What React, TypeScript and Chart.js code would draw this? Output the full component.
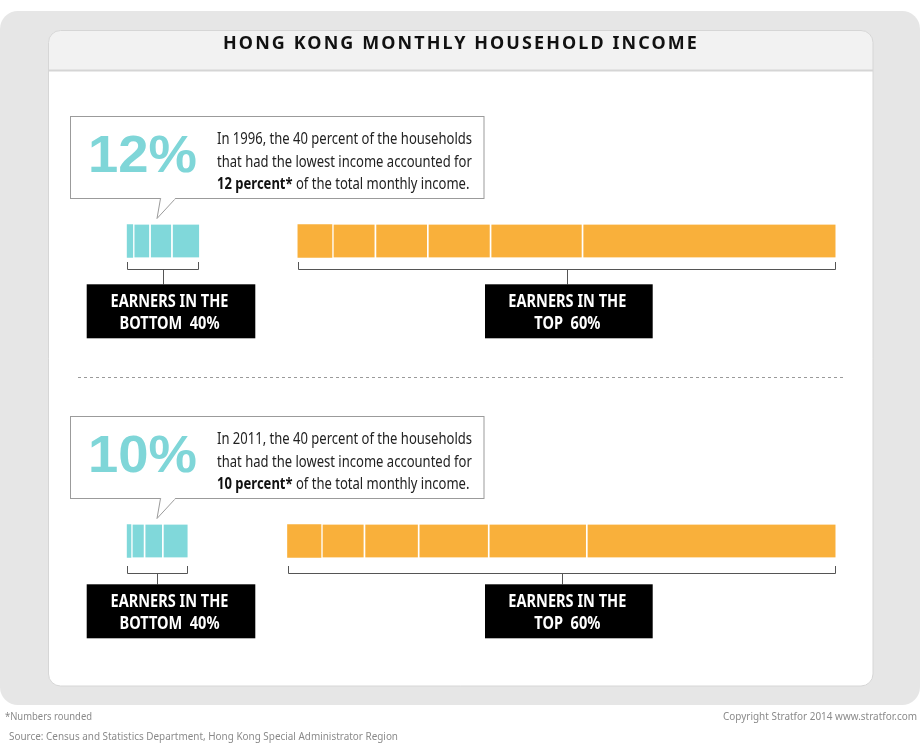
import React, { useEffect, useRef } from 'react';
import { Chart, registerables } from 'chart.js';

Chart.register(...registerables);

// ---------------- DATA ----------------
const years = ['1996', '2011'];
const bottomDeciles = ['1st decile', '2nd decile', '3rd decile', '4th decile'];
const topDeciles = ['5th decile', '6th decile', '7th decile', '8th decile', '9th decile', '10th decile'];
// share of total monthly household income (%), by decile, per year
const bottom1996 = [1.0, 2.7, 3.6, 4.6];
const bottom2011 = [0.7, 2.1, 3.0, 4.2];
const top1996 = [5.6, 7.0, 8.6, 10.3, 15.1, 41.7];
const top2011 = [5.5, 7.0, 8.9, 11.5, 16.1, 41.0];
// invisible spacer between the two groups
const spacer = [16.2, 16.4];
const AXIS_MAX = 116.4;

const bigLabels = ['12%', '10%'];
const calloutLine1 = ['In 1996, the 40 percent of the households', 'In 2011, the 40 percent of the households'];
const calloutLine2 = ['that had the lowest income accounted for', 'that had the lowest income accounted for'];
const calloutBold = ['12 percent*', '10 percent*'];
const calloutRest = [' of the total monthly income.', ' of the total monthly income.'];
const groupLabelsBottom = ['EARNERS IN THE', 'BOTTOM  40%'];
const groupLabelsTop = ['EARNERS IN THE', 'TOP  60%'];
const TITLE = 'HONG KONG MONTHLY HOUSEHOLD INCOME';
const NOTE = '*Numbers rounded';
const SOURCE = 'Source: Census and Statistics Department, Hong Kong Special Administrator Region';
const COPYRIGHT = 'Copyright Stratfor 2014 www.stratfor.com';

// ---------------- STYLE ----------------
const W = 920;
const H = 749;
const CYAN = '#80d8da';
const ORANGE = '#f9b03b';
const DIVIDER = 'rgba(255,255,255,0.72)';
const SANS = '"Noto Sans", "Open Sans", sans-serif';

function rr(ctx: CanvasRenderingContext2D, x: number, y: number, w: number, h: number, r: number) {
  ctx.beginPath();
  (ctx as any).roundRect(x, y, w, h, r);
}

function measure(ctx: CanvasRenderingContext2D, text: string, font: string, spacing = '0px') {
  ctx.save();
  ctx.font = font;
  (ctx as any).letterSpacing = spacing;
  const w = ctx.measureText(text).width;
  ctx.restore();
  return w;
}

function drawScaled(
  ctx: CanvasRenderingContext2D,
  text: string,
  x: number,
  y: number,
  font: string,
  sx: number,
  color: string,
  align: 'left' | 'center' | 'right' = 'left',
  spacing = '0px'
) {
  const w = measure(ctx, text, font, spacing) * sx;
  let x0 = x;
  if (align === 'center') x0 = x - w / 2;
  else if (align === 'right') x0 = x - w;
  ctx.save();
  ctx.font = font;
  (ctx as any).letterSpacing = spacing;
  ctx.fillStyle = color;
  ctx.textAlign = 'left';
  ctx.textBaseline = 'alphabetic';
  ctx.translate(x0, y);
  ctx.scale(sx, 1);
  ctx.fillText(text, 0, 0);
  ctx.restore();
  return w;
}

function drawFit(
  ctx: CanvasRenderingContext2D,
  text: string,
  x: number,
  y: number,
  font: string,
  width: number,
  color: string,
  align: 'left' | 'center' | 'right' = 'left',
  spacing = '0px'
) {
  const sx = width / measure(ctx, text, font, spacing);
  return drawScaled(ctx, text, x, y, font, sx, color, align, spacing);
}

const backgroundPlugin = {
  id: 'panelBackground',
  beforeDraw(chart: any) {
    const ctx: CanvasRenderingContext2D = chart.ctx;
    ctx.save();
    ctx.fillStyle = '#ffffff';
    ctx.fillRect(0, 0, W, H);
    ctx.fillStyle = '#e6e6e6';
    rr(ctx, 0, 11, 920, 694, 18);
    ctx.fill();
    // inner panel
    ctx.fillStyle = '#ffffff';
    rr(ctx, 48.5, 30.5, 824.5, 655.5, 12);
    ctx.fill();
    ctx.save();
    rr(ctx, 48.5, 30.5, 824.5, 655.5, 12);
    ctx.clip();
    ctx.fillStyle = '#f2f2f2';
    ctx.fillRect(48, 30, 826, 40);
    ctx.restore();
    ctx.strokeStyle = '#d5d5d5';
    ctx.lineWidth = 2;
    ctx.beginPath();
    ctx.moveTo(49, 70.5);
    ctx.lineTo(873, 70.5);
    ctx.stroke();
    ctx.lineWidth = 1;
    ctx.strokeStyle = '#d6d6d6';
    rr(ctx, 48.5, 30.5, 824.5, 655.5, 12);
    ctx.stroke();
    // title
    drawFit(ctx, TITLE, 461, 48.5, `bold 17px ${SANS}`, 476, '#111111', 'center', '2px');
    ctx.restore();
  },
};

const annotationPlugin = {
  id: 'annotations',
  afterDatasetsDraw(chart: any) {
    const ctx: CanvasRenderingContext2D = chart.ctx;
    ctx.save();
    const nB = bottomDeciles.length;
    const lastIdx = nB + topDeciles.length; // spacer sits at index nB
    const tickGap = [4.5, 8.5];
    const lineGap = [11, 15];

    years.forEach((_, r) => {
      const off = r * 300;
      // ---- callout box
      const bx = 70.5;
      const by = 116.5 + off;
      const bw = 413.5;
      const bh = 82;
      ctx.fillStyle = '#ffffff';
      ctx.fillRect(bx, by, bw, bh);
      ctx.strokeStyle = '#9b9b9b';
      ctx.lineWidth = 1;
      ctx.strokeRect(bx, by, bw, bh);
      const bot = by + bh;
      ctx.beginPath();
      ctx.moveTo(160.5, bot);
      ctx.lineTo(157, bot + 20);
      ctx.lineTo(175.5, bot);
      ctx.closePath();
      ctx.fillStyle = '#ffffff';
      ctx.fill();
      ctx.beginPath();
      ctx.moveTo(160.5, bot);
      ctx.lineTo(157, bot + 20);
      ctx.lineTo(175.5, bot);
      ctx.stroke();
      ctx.fillStyle = '#ffffff';
      ctx.fillRect(161.2, bot - 1, 13.6, 2);

      // big percentage
      drawFit(ctx, bigLabels[r], 88, 171.7 + off, 'bold 51px "Liberation Sans", Arial, sans-serif', 109, '#7fd6d8');

      // paragraph
      const pf = `15.5px ${SANS}`;
      const pfb = `bold 15.5px ${SANS}`;
      const sx = 255 / measure(ctx, calloutLine1[r], pf);
      drawScaled(ctx, calloutLine1[r], 217, 144.3 + off, pf, sx, '#222222');
      drawScaled(ctx, calloutLine2[r], 217, 166.7 + off, pf, sx, '#222222');
      const wb = drawScaled(ctx, calloutBold[r], 217, 189 + off, pfb, sx, '#111111');
      drawScaled(ctx, calloutRest[r], 217 + wb, 189 + off, pf, sx, '#222222');

      // ---- brackets from bar geometry
      const firstB = chart.getDatasetMeta(0).data[r].getProps(['x', 'base', 'y', 'height'], true);
      const lastB = chart.getDatasetMeta(nB - 1).data[r].getProps(['x', 'base', 'y', 'height'], true);
      const firstT = chart.getDatasetMeta(nB + 1).data[r].getProps(['x', 'base', 'y', 'height'], true);
      const lastT = chart.getDatasetMeta(lastIdx).data[r].getProps(['x', 'base', 'y', 'height'], true);
      const barBottom = firstB.y + firstB.height / 2;
      const yT = barBottom + tickGap[r];
      const yL = Math.round(barBottom + lineGap[r]) + 0.5;
      const boxTop = 284.3 + off;
      ctx.strokeStyle = '#555555';
      ctx.lineWidth = 1;
      const bracket = (x0: number, x1: number) => {
        const a = Math.round(x0) + 0.5;
        const b = Math.round(x1) - 0.5;
        ctx.beginPath();
        ctx.moveTo(a, yT);
        ctx.lineTo(a, yL);
        ctx.lineTo(b, yL);
        ctx.lineTo(b, yT);
        ctx.stroke();
        const c = Math.round((x0 + x1) / 2) + 0.5;
        ctx.beginPath();
        ctx.moveTo(c, yL);
        ctx.lineTo(c, boxTop);
        ctx.stroke();
      };
      bracket(firstB.base, lastB.x);
      bracket(firstT.base, lastT.x);

      // ---- black label boxes
      const boxes = [
        { x: 86.7, w: 168.6, lines: groupLabelsBottom },
        { x: 485, w: 167.7, lines: groupLabelsTop },
      ];
      boxes.forEach((b) => {
        ctx.fillStyle = '#000000';
        ctx.fillRect(b.x, boxTop, b.w, 54);
        const lf = `bold 17px ${SANS}`;
        const lsx = 118 / measure(ctx, b.lines[0], lf);
        const cx = b.x + b.w / 2 - 1.5;
        drawScaled(ctx, b.lines[0], cx, 307.3 + off, lf, lsx, '#ffffff', 'center');
        drawScaled(ctx, b.lines[1], cx, 328.5 + off, lf, lsx, '#ffffff', 'center');
      });
    });

    // dashed separator
    ctx.strokeStyle = '#9a9a9a';
    ctx.lineWidth = 1;
    ctx.setLineDash([3, 3]);
    ctx.beginPath();
    ctx.moveTo(78, 377.5);
    ctx.lineTo(843, 377.5);
    ctx.stroke();
    ctx.setLineDash([]);

    // footer
    const ff = `11.5px ${SANS}`;
    drawFit(ctx, NOTE, 5, 719.5, ff, 87, '#8a8a8a');
    drawFit(ctx, SOURCE, 9, 739.5, ff, 389, '#8a8a8a');
    drawFit(ctx, COPYRIGHT, 917, 719.5, ff, 194, '#8a8a8a', 'right');
    ctx.restore();
  },
};

export default function App() {
  const canvasRef = useRef<HTMLCanvasElement | null>(null);

  useEffect(() => {
    let chart: Chart | null = null;
    let cancelled = false;
    const build = () => {
      if (cancelled || !canvasRef.current) return;
      const segment = (label: string, data: number[], color: string, first: boolean) => ({
        label,
        data,
        backgroundColor: color,
        borderColor: DIVIDER,
        borderWidth: first ? 0 : { left: 2, right: 0, top: 0, bottom: 0 },
        borderSkipped: false,
        barThickness: 33,
      });
      const datasets: any[] = [
        ...bottomDeciles.map((l, i) => segment(l, [bottom1996[i], bottom2011[i]], CYAN, i === 0)),
        {
          label: 'spacer',
          data: spacer,
          backgroundColor: 'rgba(0,0,0,0)',
          borderWidth: 0,
          barThickness: 33,
        },
        ...topDeciles.map((l, i) => segment(l, [top1996[i], top2011[i]], ORANGE, i === 0)),
      ];
      chart = new Chart(canvasRef.current, {
        type: 'bar',
        data: { labels: years, datasets },
        options: {
          indexAxis: 'y',
          responsive: false,
          animation: false,
          events: [],
          layout: { padding: { left: 126.7, right: 84.3, top: 91, bottom: 58 } },
          scales: {
            x: { stacked: true, min: 0, max: AXIS_MAX, display: false },
            y: { stacked: true, display: false },
          },
          plugins: { legend: { display: false }, tooltip: { enabled: false } },
        } as any,
        plugins: [backgroundPlugin, annotationPlugin],
      });
    };
    const fontsToLoad = [
      `bold 17px ${SANS}`,
      `15.5px ${SANS}`,
      `bold 15.5px ${SANS}`,
      'bold 51px "Liberation Sans"',
    ];
    Promise.all(fontsToLoad.map((f) => (document as any).fonts.load(f).catch(() => null)))
      .then(build)
      .catch(build);
    return () => {
      cancelled = true;
      if (chart) chart.destroy();
    };
  }, []);

  return (
    <div style={{ position: 'fixed', left: 0, top: 0, width: W, height: H, background: '#fff' }}>
      <canvas ref={canvasRef} width={W} height={H} style={{ display: 'block', width: W, height: H }} />
    </div>
  );
}
